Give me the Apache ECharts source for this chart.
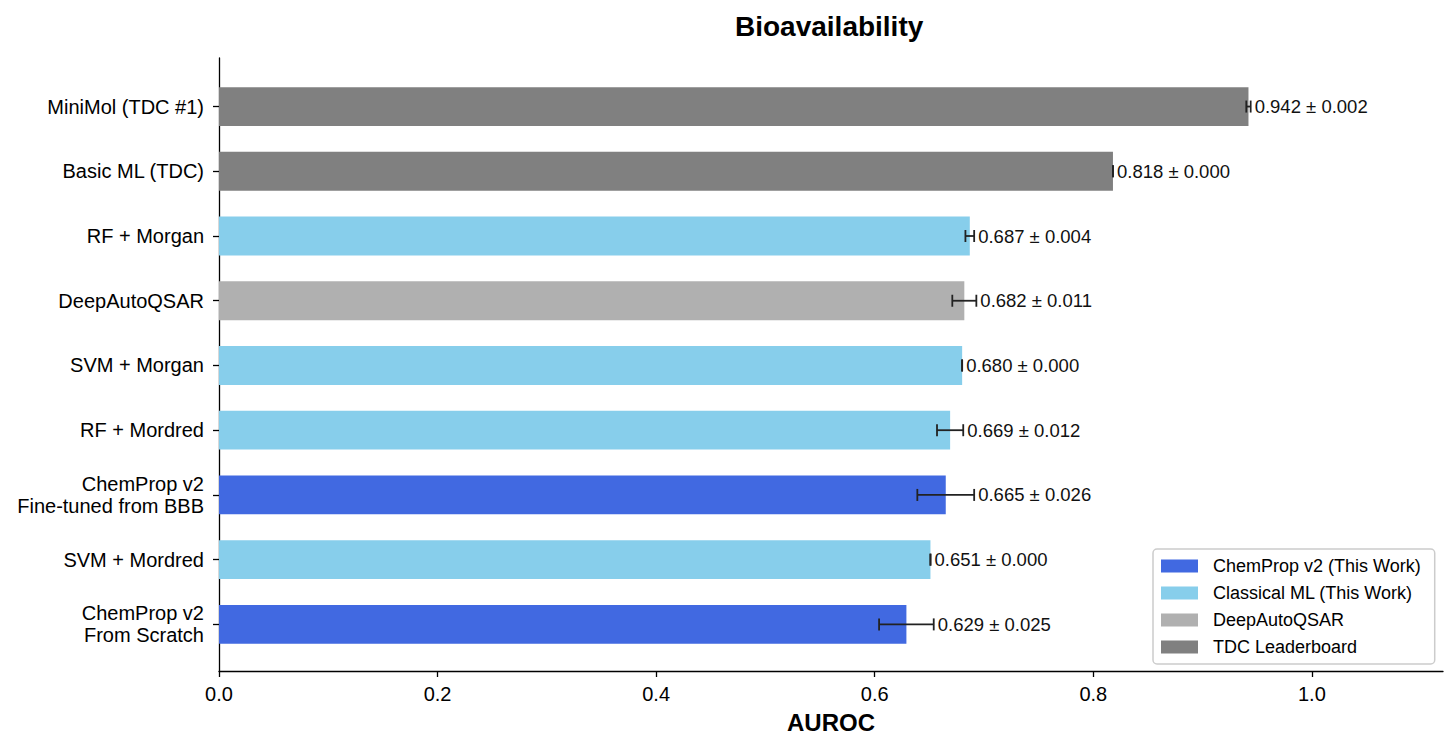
<!DOCTYPE html>
<html>
<head>
<meta charset="utf-8">
<script src="https://cdn.jsdelivr.net/npm/echarts@6/dist/echarts.min.js"></script>
<style>
html,body{margin:0;padding:0;background:#fff;}
#chart{width:1456px;height:751px;}
</style>
</head>
<body>
<div id="chart"></div>
<script>
const categories = ['MiniMol (TDC #1)', 'Basic ML (TDC)', 'RF + Morgan', 'DeepAutoQSAR', 'SVM + Morgan', 'RF + Mordred', 'ChemProp v2\nFine-tuned from BBB', 'SVM + Mordred', 'ChemProp v2\nFrom Scratch'];
const values = [0.942, 0.818, 0.687, 0.682, 0.680, 0.669, 0.665, 0.651, 0.629];
const errors = [0.002, 0.000, 0.004, 0.011, 0.000, 0.012, 0.026, 0.000, 0.025];
const groups = ['TDC Leaderboard', 'TDC Leaderboard', 'Classical ML (This Work)', 'DeepAutoQSAR', 'Classical ML (This Work)', 'Classical ML (This Work)', 'ChemProp v2 (This Work)', 'Classical ML (This Work)', 'ChemProp v2 (This Work)'];
const groupNames = ['ChemProp v2 (This Work)', 'Classical ML (This Work)', 'DeepAutoQSAR', 'TDC Leaderboard'];
const groupColors = ['#4169E1', '#87CEEB', '#B0B0B0', '#808080'];
const xTicks = [0, 0.2, 0.4, 0.6, 0.8, 1.0];
const yTicks = categories.map((c, i) => i);

const FONT = '"Liberation Sans", Arial, sans-serif';

function renderItem(params, api) {
  const v = api.value(0), e = api.value(1), idx = api.value(2);
  const color = api.visual('color');
  const p0 = api.coord([0, idx]);
  const p1 = api.coord([v, idx]);
  const h = Math.abs(api.size([0, 0.6])[1]);
  const pl = api.coord([v - e, idx]);
  const pr = api.coord([v + e, idx]);
  const cy = p1[1];
  const cap = 6;
  const ls = {stroke: '#222', lineWidth: 1.8};
  return {
    type: 'group',
    children: [
      {type: 'rect', shape: {x: p0[0], y: cy - h / 2, width: p1[0] - p0[0], height: h}, style: {fill: color}},
      {type: 'line', shape: {x1: pl[0], y1: cy, x2: pr[0], y2: cy}, style: ls, z2: 5},
      {type: 'line', shape: {x1: pl[0], y1: cy - cap, x2: pl[0], y2: cy + cap}, style: ls, z2: 5},
      {type: 'line', shape: {x1: pr[0], y1: cy - cap, x2: pr[0], y2: cy + cap}, style: ls, z2: 5},
      {type: 'text', x: pr[0] + 4, y: cy, z2: 6, style: {
        text: v.toFixed(3) + ' \u00b1 ' + e.toFixed(3),
        fill: '#111', font: '18.5px ' + FONT, align: 'left', verticalAlign: 'middle'}}
    ]
  };
}

const series = groupNames.map((g, gi) => ({
  name: g,
  type: 'custom',
  renderItem: renderItem,
  itemStyle: {color: groupColors[gi]},
  encode: {x: 0, y: 2},
  data: values.map((v, i) => [v, errors[i], i]).filter((d, i) => groups[i] === g),
  clip: false
}));

const chart = echarts.init(document.getElementById('chart'), null, {renderer: 'svg'});
chart.setOption({
  backgroundColor: '#fff',
  animation: false,
  textStyle: {fontFamily: FONT},
  title: {
    text: 'Bioavailability', left: 735, top: 12, padding: 0,
    textStyle: {fontSize: 28, fontWeight: 'bold', color: '#000', fontFamily: FONT}
  },
  grid: {left: 219, right: 13, top: 58, bottom: 80, containLabel: false},
  legend: {
    orient: 'vertical', left: 1153, top: 549,
    data: groupNames, icon: 'rect', itemWidth: 37, itemHeight: 13, itemGap: 9,
    selectedMode: false,
    padding: [8, 14, 8, 8],
    borderColor: '#cccccc', borderWidth: 1.5, borderRadius: 4, backgroundColor: '#fff',
    textStyle: {fontSize: 18, color: '#000', fontFamily: FONT, padding: [0, 0, 0, 10]}
  },
  xAxis: {
    type: 'value', min: 0, max: 1.12,
    name: 'AUROC', nameLocation: 'middle', nameGap: 39,
    nameTextStyle: {fontSize: 24, fontWeight: 'bold', color: '#000', fontFamily: FONT},
    splitLine: {show: false},
    axisLine: {show: true, onZero: false, lineStyle: {color: '#000', width: 1.3}},
    axisTick: {show: true, length: 6, customValues: xTicks, lineStyle: {color: '#000', width: 1.3}},
    axisLabel: {customValues: xTicks, formatter: v => Number(v).toFixed(1), fontSize: 20, color: '#000', margin: 13, fontFamily: FONT}
  },
  yAxis: {
    type: 'value', inverse: true, min: -0.75, max: 8.72,
    splitLine: {show: false},
    axisLine: {show: true, onZero: false, lineStyle: {color: '#000', width: 1.3}},
    axisTick: {show: true, length: 6, customValues: yTicks, lineStyle: {color: '#000', width: 1.3}},
    axisLabel: {customValues: yTicks, formatter: v => categories[Math.round(v)] || '', fontSize: 20, lineHeight: 22, color: '#000', margin: 15, fontFamily: FONT, align: 'right'}
  },
  series: series
});
</script>
</body>
</html>
